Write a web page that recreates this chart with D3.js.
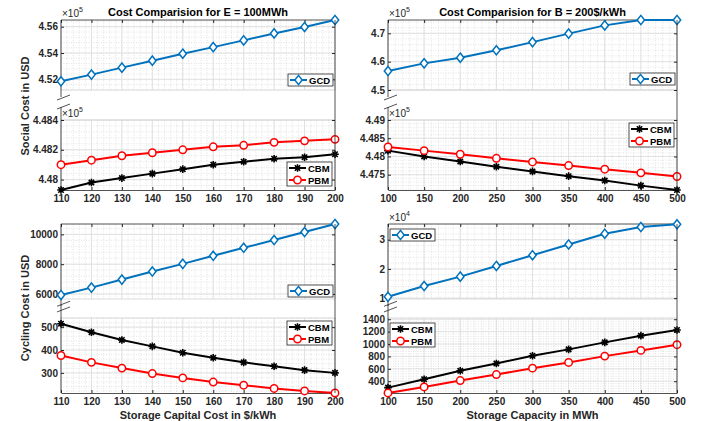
<!DOCTYPE html>
<html>
<head>
<meta charset="utf-8">
<script src="https://cdn.jsdelivr.net/npm/d3@7"></script>
<style>
  body { margin: 0; background: #fff; }
  svg { display: block; font-family: "Liberation Sans", Arial, sans-serif; }
</style>
</head>
<body>
<svg id="chart" width="710" height="421"></svg>
<script>
// --- data ---
const capCost  = [110, 120, 130, 140, 150, 160, 170, 180, 190, 200];   // $/kWh
const capacity = [100, 150, 200, 250, 300, 350, 400, 450, 500];        // MWh

// social cost, E = 100MWh (x1e5 USD)
const socialGcdE = [4.5185, 4.5236, 4.5289, 4.5342, 4.5395, 4.5445, 4.5496, 4.5549, 4.5598, 4.5651];
const socialCbmE = [4.4793, 4.4798, 4.4801, 4.4804, 4.4807, 4.4810, 4.4812, 4.4814, 4.4815, 4.4817];
const socialPbmE = [4.4810, 4.4813, 4.4816, 4.4818, 4.4820, 4.4822, 4.4823, 4.4825, 4.4826, 4.4827];
// social cost, B = 200$/kWh (x1e5 USD)
const socialGcdB = [4.567, 4.594, 4.614, 4.640, 4.669, 4.699, 4.728, 4.747, 4.747];
const socialCbmB = [4.4816, 4.4800, 4.4786, 4.4772, 4.4759, 4.4746, 4.4734, 4.4720, 4.4708];
const socialPbmB = [4.4826, 4.4816, 4.4806, 4.4795, 4.4785, 4.4775, 4.4765, 4.4755, 4.4745];
// cycling cost, E = 100MWh (USD)
const cyclingGcdE = [5933, 6427, 6966, 7506, 8022, 8562, 9101, 9618, 10157, 10697];
const cyclingCbmE = [515, 478, 444, 416, 388, 366, 346, 329, 312, 300];
const cyclingPbmE = [376, 346, 321, 297, 278, 260, 246, 232, 221, 212];
// cycling cost, B = 200$/kWh (GCD in x1e4 USD)
const cyclingGcdB = [1.046, 1.414, 1.736, 2.103, 2.471, 2.839, 3.207, 3.437, 3.529];
const cyclingCbmB = [297, 432, 568, 686, 811, 914, 1027, 1135, 1227];
const cyclingPbmB = [211, 308, 411, 508, 611, 703, 805, 897, 989];

// tick labels
const ticksSocUpE  = [4.52, 4.54, 4.56];
const ticksSocLowE = [4.48, 4.482, 4.484];
const ticksSocUpB  = [4.5, 4.6, 4.7];
const ticksSocLowB = [4.475, 4.48, 4.485, 4.49];
const ticksCycUpE  = [6000, 8000, 10000];
const ticksCycLowE = [300, 400, 500];
const ticksCycUpB  = [1, 2, 3];
const ticksCycLowB = [400, 600, 800, 1000, 1200, 1400];

const styles = {
  GCD: { color: "#0072BD", marker: "diamond" },
  CBM: { color: "#000000", marker: "asterisk" },
  PBM: { color: "#FF0000", marker: "circle" }
};

const axisColor = "#262626";
const svg = d3.select("#chart");

// layout of the four broken-axis panels
const panels = [
  { x0: 61, x1: 335, xs: capCost, xDomain: [110, 200], xStep: 10,
    title: "Cost Comparision for E = 100MWh",
    subs: [
      { top: 20, bottom: 90, domain: [4.5119, 4.5651], ticks: ticksSocUpE, exp: "5",
        series: [["GCD", socialGcdE]], legend: [288, 74] },
      { top: 120, bottom: 190, domain: [4.4793, 4.4840], ticks: ticksSocLowE, exp: "5",
        series: [["CBM", socialCbmE], ["PBM", socialPbmE]], legend: [287, 162] }
    ] },
  { x0: 388, x1: 677, xs: capacity, xDomain: [100, 500], xStep: 50,
    title: "Cost Comparision for B = 200$/kWh",
    subs: [
      { top: 20, bottom: 90, domain: [4.5, 4.747], ticks: ticksSocUpB, exp: "5",
        series: [["GCD", socialGcdB]], legend: [630, 73] },
      { top: 120, bottom: 190, domain: [4.4708, 4.49], ticks: ticksSocLowB, exp: "5",
        series: [["CBM", socialCbmB], ["PBM", socialPbmB]], legend: [629, 123] }
    ] },
  { x0: 61, x1: 335, xs: capCost, xDomain: [110, 200], xStep: 10,
    xLabel: "Storage Capital Cost in $/kWh",
    subs: [
      { top: 224, bottom: 299, domain: [5663, 10697], ticks: ticksCycUpE,
        series: [["GCD", cyclingGcdE]], legend: [288, 285] },
      { top: 318, bottom: 393, domain: [212, 540], ticks: ticksCycLowE,
        series: [["CBM", cyclingCbmE], ["PBM", cyclingPbmE]], legend: [287, 321] }
    ] },
  { x0: 388, x1: 677, xs: capacity, xDomain: [100, 500], xStep: 50,
    xLabel: "Storage Capacity in MWh",
    subs: [
      { top: 224, bottom: 299, domain: [0.97, 3.54], ticks: ticksCycUpB, exp: "4",
        series: [["GCD", cyclingGcdB]], legend: [390, 229] },
      { top: 318, bottom: 393, domain: [210, 1420], ticks: ticksCycLowB,
        series: [["CBM", cyclingCbmB], ["PBM", cyclingPbmB]], legend: [390, 323] }
    ] }
];

function drawMarker(g, type, color, x, y) {
  if (type === "diamond") {
    g.append("path")
      .attr("d", `M${x},${y - 4.6}L${x + 3.7},${y}L${x},${y + 4.6}L${x - 3.7},${y}Z`)
      .attr("fill", "#fff").attr("stroke", color).attr("stroke-width", 1.5);
  } else if (type === "circle") {
    g.append("circle").attr("cx", x).attr("cy", y).attr("r", 3.7)
      .attr("fill", "#fff").attr("stroke", color).attr("stroke-width", 1.5);
  } else {
    const a = 3.8, b = 2.7;
    g.append("path")
      .attr("d", `M${x - a},${y}H${x + a}M${x},${y - a}V${y + a}M${x - b},${y - b}L${x + b},${y + b}M${x - b},${y + b}L${x + b},${y - b}`)
      .attr("stroke", color).attr("stroke-width", 1.6).attr("fill", "none");
  }
}

function drawLegend(g, entries, lx, ly) {
  const rowH = 12, w = 45;
  g.append("rect")
    .attr("x", lx).attr("y", ly)
    .attr("width", w).attr("height", rowH * entries.length)
    .attr("fill", "#fff").attr("stroke", axisColor).attr("stroke-width", 0.8);
  entries.forEach(([name], i) => {
    const st = styles[name];
    const cy = ly + rowH * i + rowH / 2;
    g.append("line")
      .attr("x1", lx + 2).attr("x2", lx + 19)
      .attr("y1", cy).attr("y2", cy)
      .attr("stroke", st.color).attr("stroke-width", 2);
    drawMarker(g, st.marker, st.color, lx + 10.5, cy);
    g.append("text")
      .attr("x", lx + 21).attr("y", cy + 3.5)
      .style("font-size", "9.5px").style("font-weight", "bold")
      .attr("fill", "#000")
      .text(name);
  });
}

function fmt(v) { return String(+v.toFixed(4)); }

function drawPanel(p) {
  const g = svg.append("g");
  const x = d3.scaleLinear().domain(p.xDomain).range([p.x0, p.x1]);
  const minorX = d3.range(p.xDomain[0], p.xDomain[1] + 1e-9, p.xStep / 5);
  const majorX = d3.range(p.xDomain[0], p.xDomain[1] + 1e-9, p.xStep);

  p.subs.forEach((s, si) => {
    const y = d3.scaleLinear().domain(s.domain).range([s.bottom, s.top]);
    const yStep = s.ticks[1] - s.ticks[0];
    const minorY = d3.range(s.ticks[0] - yStep * 3, s.domain[1] + 1e-9, yStep / 5)
      .filter(v => v >= s.domain[0] && v <= s.domain[1]);
    const majorY = d3.range(s.ticks[0] - yStep * 3, s.domain[1] + 1e-9, yStep)
      .filter(v => v >= s.domain[0] - 1e-9 && v <= s.domain[1] + 1e-9);

    const grid = g.append("g");
    grid.selectAll(".mx").data(minorX).join("line")
      .attr("x1", d => x(d)).attr("x2", d => x(d))
      .attr("y1", s.top).attr("y2", s.bottom)
      .attr("stroke", "#c8c8c8").attr("stroke-width", 0.5).attr("stroke-dasharray", "1,1.5");
    grid.selectAll(".my").data(minorY).join("line")
      .attr("x1", p.x0).attr("x2", p.x1)
      .attr("y1", d => y(d)).attr("y2", d => y(d))
      .attr("stroke", "#c8c8c8").attr("stroke-width", 0.5).attr("stroke-dasharray", "1,1.5");
    grid.selectAll(".gx").data(majorX).join("line")
      .attr("x1", d => x(d)).attr("x2", d => x(d))
      .attr("y1", s.top).attr("y2", s.bottom)
      .attr("stroke", "#dcdcdc").attr("stroke-width", 0.8);
    grid.selectAll(".gy").data(majorY).join("line")
      .attr("x1", p.x0).attr("x2", p.x1)
      .attr("y1", d => y(d)).attr("y2", d => y(d))
      .attr("stroke", "#dcdcdc").attr("stroke-width", 0.8);

    // light box edges facing the break
    g.append("line")
      .attr("x1", p.x0).attr("x2", p.x1)
      .attr("y1", si === 0 ? s.bottom : s.top).attr("y2", si === 0 ? s.bottom : s.top)
      .attr("stroke", "#d0d0d0").attr("stroke-width", 0.8);

    // y axis (ticks inside)
    const ya = g.append("g")
      .attr("transform", `translate(${p.x0},0)`)
      .call(d3.axisLeft(y).tickValues(s.ticks).tickFormat(fmt).tickSizeInner(-3).tickSizeOuter(0).tickPadding(3));
    ya.select(".domain").remove();
    ya.selectAll(".tick line").attr("stroke", axisColor);
    ya.selectAll("text").style("font-size", "10px").style("font-weight", "bold")
      .attr("fill", axisColor).style("font-family", "'Liberation Sans', Arial, sans-serif");

    const yr = g.append("g")
      .attr("transform", `translate(${p.x1},0)`)
      .call(d3.axisRight(y).tickValues(s.ticks).tickFormat("").tickSizeInner(-3).tickSizeOuter(0));
    yr.select(".domain").remove();
    yr.selectAll(".tick line").attr("stroke", axisColor);

    // left axis line, cut at the break
    const y1 = si === 0 ? s.top : s.top - 13;
    const y2 = si === 0 ? s.bottom + 7 : s.bottom;
    g.append("line").attr("x1", p.x0).attr("x2", p.x0).attr("y1", y1).attr("y2", y2)
      .attr("stroke", axisColor).attr("stroke-width", 0.8);

    if (si === 0) {
      g.append("line").attr("x1", p.x0).attr("x2", p.x1).attr("y1", s.top).attr("y2", s.top)
        .attr("stroke", axisColor).attr("stroke-width", 0.8);
      const xt = g.append("g").attr("transform", `translate(0,${s.top})`)
        .call(d3.axisTop(x).tickValues(p.xs).tickFormat("").tickSizeInner(-3).tickSizeOuter(0));
      xt.select(".domain").remove();
      xt.selectAll(".tick line").attr("stroke", axisColor);
    } else {
      const xb = g.append("g").attr("transform", `translate(0,${s.bottom})`)
        .call(d3.axisBottom(x).tickValues(p.xs).tickSizeInner(-3).tickSizeOuter(0).tickPadding(5));
      xb.select(".domain").attr("stroke", axisColor).attr("stroke-width", 0.8);
      xb.selectAll(".tick line").attr("stroke", axisColor);
      xb.selectAll("text").style("font-size", "10px").style("font-weight", "bold")
        .attr("fill", axisColor).style("font-family", "'Liberation Sans', Arial, sans-serif");
    }

    // exponent label
    if (s.exp) {
      const t = g.append("text")
        .attr("x", p.x0 + 1).attr("y", s.top - 3)
        .style("font-size", "10px").attr("fill", axisColor);
      t.append("tspan").text("\u00d710");
      t.append("tspan").attr("dy", -5).style("font-size", "7px").text(s.exp);
    }

    // series
    const line = d3.line().x((d, i) => x(p.xs[i])).y(d => y(d));
    s.series.forEach(([name, vals]) => {
      const st = styles[name];
      g.append("path").datum(vals).attr("d", line)
        .attr("fill", "none").attr("stroke", st.color).attr("stroke-width", 2);
      const mg = g.append("g");
      vals.forEach((v, i) => drawMarker(mg, st.marker, st.color, x(p.xs[i]), y(v)));
    });

    drawLegend(g, s.series, s.legend[0], s.legend[1]);
  });

  // right edge runs straight through the break
  const top = p.subs[0].top, bot = p.subs[1].bottom;
  g.append("line").attr("x1", p.x1).attr("x2", p.x1).attr("y1", top).attr("y2", bot)
    .attr("stroke", axisColor).attr("stroke-width", 0.8);

  // break marks
  const ub = p.subs[0].bottom, lt = p.subs[1].top;
  const gap = lt - ub;
  [ub + gap * 0.25, ub + gap * 0.55].forEach(c => {
    g.append("line")
      .attr("x1", p.x0 - 4).attr("y1", c + 2.5)
      .attr("x2", p.x0 + 9).attr("y2", c - 2.5)
      .attr("stroke", axisColor).attr("stroke-width", 0.8);
  });

  const cx = (p.x0 + p.x1) / 2;
  if (p.title) {
    svg.append("text").attr("x", cx).attr("y", 16).attr("text-anchor", "middle")
      .style("font-size", "11px").style("font-weight", "bold").attr("fill", "#000")
      .text(p.title);
  }
  if (p.xLabel) {
    svg.append("text").attr("x", cx).attr("y", 419).attr("text-anchor", "middle")
      .style("font-size", "11px").style("font-weight", "bold").attr("fill", axisColor)
      .text(p.xLabel);
  }
}

panels.forEach(drawPanel);

// y labels
[["Social Cost in USD", 106], ["Cycling Cost in USD", 308]].forEach(([label, cy]) => {
  svg.append("text")
    .attr("transform", `translate(29,${cy}) rotate(-90)`)
    .attr("text-anchor", "middle")
    .style("font-size", "11px").style("font-weight", "bold").attr("fill", axisColor)
    .text(label);
});
</script>
</body>
</html>
